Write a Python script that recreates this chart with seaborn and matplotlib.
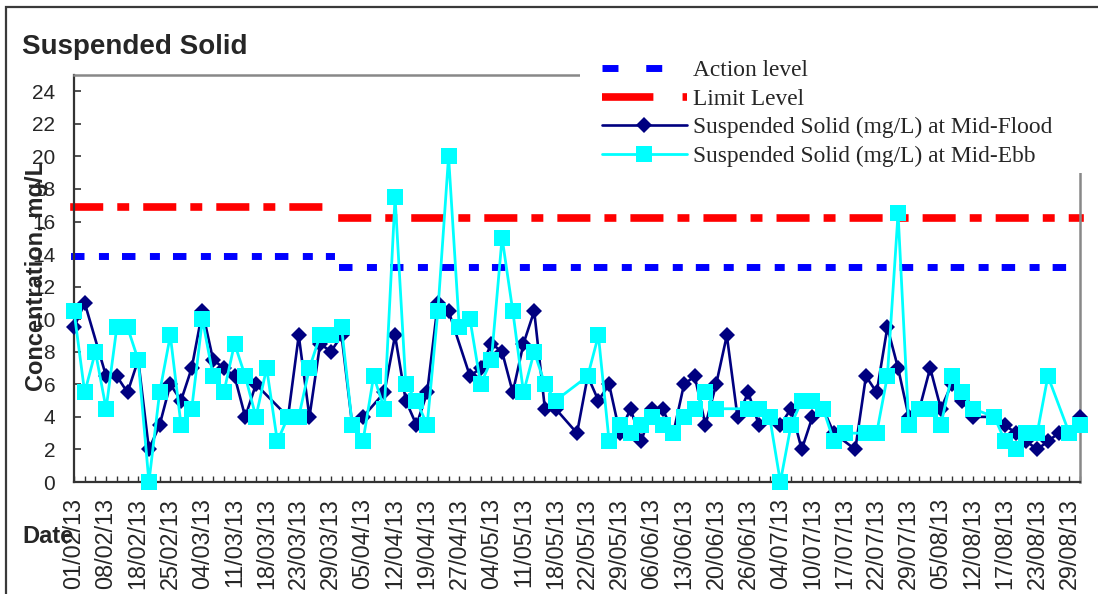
import numpy as np
import pandas as pd
import matplotlib
matplotlib.use("Agg")
import matplotlib.pyplot as plt
from matplotlib.patches import Rectangle
from matplotlib.lines import Line2D
from matplotlib.font_manager import FontProperties
import seaborn as sns

# sampling dates, one category each (only every third is labelled on the axis)
dates = [
    "01/02/13", "04/02/13", "06/02/13", "08/02/13", "13/02/13", "15/02/13",
    "18/02/13", "20/02/13", "22/02/13", "25/02/13", "27/02/13", "01/03/13",
    "04/03/13", "06/03/13", "08/03/13", "11/03/13", "13/03/13", "15/03/13",
    "18/03/13", "20/03/13", "21/03/13", "23/03/13", "25/03/13", "27/03/13",
    "29/03/13", "01/04/13", "03/04/13", "05/04/13", "08/04/13", "10/04/13",
    "12/04/13", "15/04/13", "17/04/13", "19/04/13", "23/04/13", "25/04/13",
    "27/04/13", "29/04/13", "02/05/13", "04/05/13", "07/05/13", "09/05/13",
    "11/05/13", "14/05/13", "16/05/13", "18/05/13", "20/05/13", "21/05/13",
    "22/05/13", "24/05/13", "27/05/13", "29/05/13", "31/05/13", "03/06/13",
    "06/06/13", "08/06/13", "11/06/13", "13/06/13", "15/06/13", "18/06/13",
    "20/06/13", "22/06/13", "24/06/13", "26/06/13", "28/06/13", "02/07/13",
    "04/07/13", "06/07/13", "08/07/13", "10/07/13", "12/07/13", "15/07/13",
    "17/07/13", "19/07/13", "20/07/13", "22/07/13", "24/07/13", "26/07/13",
    "29/07/13", "31/07/13", "02/08/13", "05/08/13", "07/08/13", "09/08/13",
    "12/08/13", "14/08/13", "15/08/13", "17/08/13", "19/08/13", "21/08/13",
    "23/08/13", "26/08/13", "27/08/13", "29/08/13", "31/08/13",
]

nan = np.nan
# Suspended Solid (mg/L)
mid_flood = [
    9.5, 11, nan, 6.5, 6.5, 5.5, 7.5, 2, 3.5, 6, 5, 7, 10.5, 7.5, 7, 6.5,
    4, 6, nan, nan, 4, 9, 4, 8.5, 8, 9, 3.5, 4, nan, 5.5, 9, 5, 3.5, 5.5,
    11, 10.5, nan, 6.5, 7, 8.5, 8, 5.5, 8.5, 10.5, 4.5, 4.5, nan, 3, 6.5,
    5, 6, 3, 4.5, 2.5, 4.5, 4.5, 3, 6, 6.5, 3.5, 6, 9, 4, 5.5, 3.5, 4,
    3.5, 4.5, 2, 4, 4.5, 3, nan, 2, 6.5, 5.5, 9.5, 7, 4, 4.5, 7, 4.5, 6,
    5, 4, nan, 4, 3.5, 3, 2.5, 2, 2.5, 3, 3, 4,
]
mid_ebb = [
    10.5, 5.5, 8, 4.5, 9.5, 9.5, 7.5, 0, 5.5, 9, 3.5, 4.5, 10, 6.5, 5.5,
    8.5, 6.5, 4, 7, 2.5, 4, 4, 7, 9, 9, 9.5, 3.5, 2.5, 6.5, 4.5, 17.5, 6,
    5, 3.5, 10.5, 20, 9.5, 10, 6, 7.5, 15, 10.5, 5.5, 8, 6, 5, nan, nan,
    6.5, 9, 2.5, 3.5, 3, 3.5, 4, 3.5, 3, 4, 4.5, 5.5, 4.5, nan, nan, 4.5,
    4.5, 4, 0, 3.5, 5, 5, 4.5, 2.5, 3, nan, 3, 3, 6.5, 16.5, 3.5, 4.5,
    4.5, 3.5, 6.5, 5.5, 4.5, nan, 4, 2.5, 2, 3, 3, 6.5, nan, 3, 3.5,
]

# Action / Limit levels, revised from 01/04/13
level_change = "01/04/13"
action_before, action_after = 13.9, 13.2
limit_before, limit_after = 16.9, 16.2

W, H = 1098, 594
sns.set_style("white")
plt.rcParams["font.family"] = ["Liberation Sans", "DejaVu Sans"]
plt.rcParams["lines.scale_dashes"] = False

idx = np.arange(len(dates))
ci = dates.index(level_change)
df = pd.DataFrame({"pos": idx, "flood": mid_flood, "ebb": mid_ebb})

fig = plt.figure(figsize=(W / 100, H / 100), dpi=100)
ax = fig.add_axes([74 / W, 1 - 482 / H, (1080 - 74) / W, (482 - 75) / H])

# dash patterns (points): long, gap, short, gap
action_lw, limit_lw = 5, 5.5
action_dash = (9.7, 10.4, 7.2, 9.4)
limit_dash = (23.8, 10.1, 8.6, 10.1)


def capped(dash, lw):
    # projecting caps lengthen every dash by lw, so take it back from the pattern
    return (dash[0] - lw, dash[1] + lw, dash[2] - lw, dash[3] + lw)


for seg in (idx < ci, idx >= ci):
    a_val = action_before if seg[0] else action_after
    l_val = limit_before if seg[0] else limit_after
    ax.plot(idx[seg], np.full(seg.sum(), a_val), color="#0000FF", lw=action_lw,
            dashes=capped(action_dash, action_lw), dash_capstyle="projecting",
            clip_on=False, zorder=2)
    ax.plot(idx[seg], np.full(seg.sum(), l_val), color="#FF0000", lw=limit_lw,
            dashes=capped(limit_dash, limit_lw), dash_capstyle="projecting",
            clip_on=False, zorder=2)

sns.lineplot(data=df, x="pos", y="flood", ax=ax, color="#000080", lw=1.9,
             marker="D", markersize=8.3, markeredgewidth=0, clip_on=False, zorder=3)
sns.lineplot(data=df, x="pos", y="ebb", ax=ax, color="#00FFFF", lw=2,
             marker="s", markersize=12, markeredgewidth=0, clip_on=False, zorder=4)

ax.set_xlim(0, len(dates) - 1)
ax.set_ylim(0, 25)
ax.set_yticks(range(0, 25, 2))
ax.set_xticks(idx)
ax.set_xticklabels([d if i % 3 == 0 else "" for i, d in enumerate(dates)], rotation=90)
ax.set_xlabel("")
ax.set_ylabel("")
ax.tick_params(axis="y", direction="in", length=5, width=1.2, pad=13.5,
               labelsize=15, left=True, color="#333333")
ax.tick_params(axis="x", direction="in", length=4.5, width=1.0, pad=11.5,
               labelsize=16.8, bottom=True, color="#333333")
for side in ("left", "bottom"):
    ax.spines[side].set_color("#333333")
    ax.spines[side].set_linewidth(1.6)
for side in ("top", "right"):
    ax.spines[side].set_color("#888888")
    ax.spines[side].set_linewidth(1.8)

# white legend area covers the top-right corner of the plot border
fig.add_artist(Rectangle((580 / W, 1 - 173 / H), (1110 - 580) / W, (173 - 10) / H,
                         transform=fig.transFigure, facecolor="white",
                         edgecolor="none", zorder=2))
# chart-area border
fig.add_artist(Rectangle((6 / W, -0.1), 1.2, 1.1 - 7 / H, transform=fig.transFigure,
                         fill=False, edgecolor="#3a3a3a", lw=1.6, zorder=3))

handles = [
    Line2D([], [], color="#0000FF", lw=action_lw, dashes=(11.5, 20)),
    Line2D([], [], color="#FF0000", lw=limit_lw, dashes=(37, 21, 4.5, 10)),
    Line2D([], [], color="#000080", lw=1.9, marker="D", markersize=8.3, markeredgewidth=0),
    Line2D([], [], color="#00FFFF", lw=2, marker="s", markersize=12, markeredgewidth=0),
]
labels = ["Action level", "Limit Level", "Suspended Solid (mg/L) at Mid-Flood",
          "Suspended Solid (mg/L) at Mid-Ebb"]
fig.legend(handles, labels, loc="upper left", bbox_to_anchor=(602 / W, 1 - 60 / H),
           frameon=False, prop=FontProperties(family="Liberation Serif", size=16.8),
           handlelength=3.64, handletextpad=0.26, labelspacing=0.31, borderpad=0,
           borderaxespad=0, numpoints=1)

fig.text(22 / W, 1 - 54 / H, "Suspended Solid", fontsize=20, weight="bold",
         ha="left", va="baseline")
fig.text(37 / W, 1 - 276 / H, "Concentration, mg/L", fontsize=17, weight="bold",
         rotation=90, ha="center", va="center")
fig.text(22 / W, 1 - 543 / H, "Date", fontsize=17, weight="bold",
         ha="left", va="baseline")

fig.savefig("out.png", dpi=100)
